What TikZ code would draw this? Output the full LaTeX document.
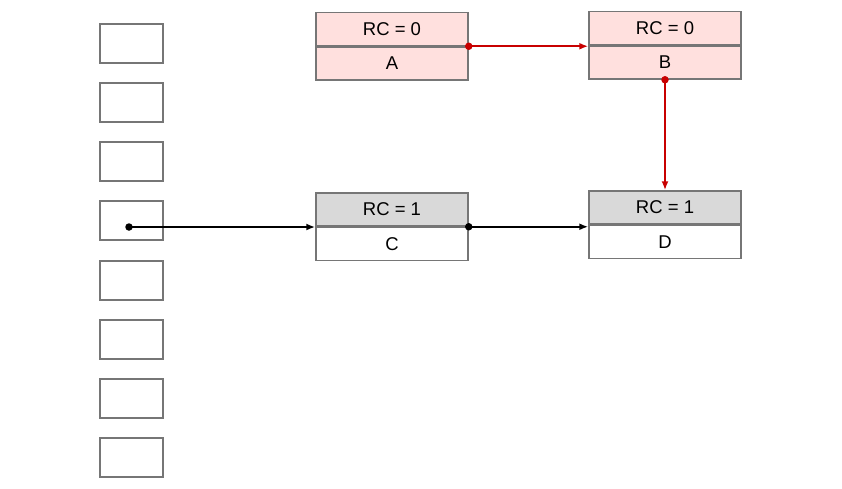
\documentclass[tikz,border=0pt]{standalone}
\usepackage{fontspec}
\setmainfont{Liberation Sans}
\usetikzlibrary{arrows.meta}
\definecolor{bordergray}{RGB}{118,118,118}
\definecolor{pinkfill}{RGB}{255,224,222}
\definecolor{grayfill}{RGB}{217,217,217}
\definecolor{linered}{RGB}{200,0,0}
\begin{document}
\begin{tikzpicture}[x=1pt,y=-1pt,
  slot/.style={draw=bordergray,line width=1.5pt,minimum width=63pt,minimum height=39pt,inner sep=0pt},
  cell/.style={draw=bordergray,line width=1.5pt,minimum width=152pt,minimum height=33pt,inner sep=0pt,font=\fontsize{18.5}{22}\selectfont},
  hot/.style={cell,fill=pinkfill},
  live/.style={cell,fill=grayfill},
  plain/.style={cell,fill=white},
  redlink/.style={draw=linered,line width=2pt,-{Latex[length=9pt,width=7pt]}},
  blacklink/.style={draw=black,line width=2pt,-{Latex[length=9pt,width=7pt]}},
  dotr/.style={circle,fill=linered,inner sep=0pt,minimum size=7.5pt},
  dotb/.style={circle,fill=black,inner sep=0pt,minimum size=7.5pt}
]
\useasboundingbox (0,0) rectangle (842,489);
% stack slots
\foreach \i/\y in {1/43.5,2/102.5,3/161.5,4/220.5,5/280.5,6/339.5,7/398.5,8/457.5}{
  \node[slot] (s\i) at (131.5,\y) {};
}
% records
\node[hot] (At) at (392,29) {RC = 0};
\node[hot,anchor=north] (Ab) at (At.south) {A};
\node[hot] (Bt) at (665,28) {RC = 0};
\node[hot,anchor=north] (Bb) at (Bt.south) {B};
\node[live] (Ct) at (392,209.5) {RC = 1};
\node[plain,anchor=north] (Cb) at (Ct.south) {C};
\node[live] (Dt) at (665,207.5) {RC = 1};
\node[plain,anchor=north] (Db) at (Dt.south) {D};
% connectors
\coordinate (p4) at (129,227);
\draw[blacklink] (p4) -- (p4 -| Ct.west);
\node[dotb] (d4) at (p4) {};
\draw[blacklink] (Ct.south east) -- (Ct.south east -| Dt.west);
\node[dotb] (dc) at (Ct.south east) {};
\draw[redlink] (At.south east) -- (At.south east -| Bt.west);
\node[dotr] (da) at (At.south east) {};
\draw[redlink] (Bb.south) -- (Dt.north);
\node[dotr] (db) at (Bb.south) {};
\end{tikzpicture}
\end{document}
